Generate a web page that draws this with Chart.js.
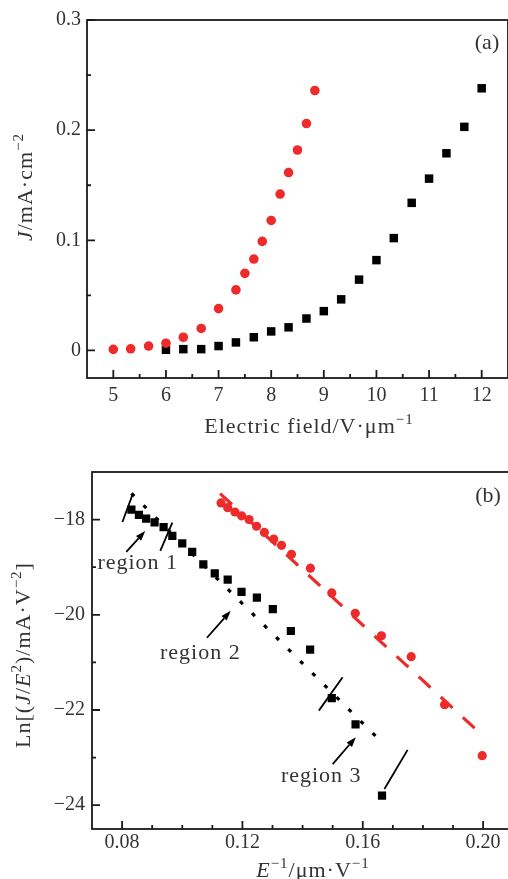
<!DOCTYPE html>
<html>
<head>
<meta charset="utf-8">
<script src="https://cdn.jsdelivr.net/npm/chart.js@4.4.1/dist/chart.umd.min.js"></script>
<style>
  html, body { margin: 0; padding: 0; background: #fff; overflow: hidden; }
  #wrap { position: relative; width: 508px; height: 879px; overflow: hidden; }
  canvas { position: absolute; left: 0; }
</style>
</head>
<body>
<div id="wrap">
  <canvas id="graficoJ" width="514" height="440" style="top:0"></canvas>
  <canvas id="graficoFN" width="519" height="439" style="top:440px"></canvas>
</div>
<script>
// (a) J - E
const redE = [5, 5.33, 5.67, 6, 6.33, 6.67, 7, 7.33, 7.5, 7.67, 7.83, 8, 8.17, 8.33, 8.5, 8.67, 8.83];
const redJ = [0.001, 0.0015, 0.004, 0.0066, 0.012, 0.020, 0.038, 0.055, 0.070, 0.083, 0.099, 0.118, 0.142, 0.1615, 0.182, 0.206, 0.236];
const blackE = [6, 6.33, 6.67, 7, 7.33, 7.67, 8, 8.33, 8.67, 9, 9.33, 9.67, 10, 10.33, 10.67, 11, 11.33, 11.67, 12];
const blackJ = [0.0006, 0.0012, 0.0012, 0.004, 0.0073, 0.012, 0.0173, 0.021, 0.029, 0.0357, 0.0464, 0.0643, 0.082, 0.102, 0.134, 0.156, 0.179, 0.203, 0.238];

// (b) F-N plot
const redInvE = [0.1129, 0.1151, 0.1175, 0.1197, 0.1222, 0.1247, 0.1273, 0.1304, 0.1330, 0.1363, 0.1426, 0.1497, 0.1575, 0.1662, 0.1761, 0.1872, 0.1997];
const redLn = [-17.65, -17.75, -17.84, -17.92, -18.0, -18.14, -18.27, -18.41, -18.54, -18.73, -19.02, -19.54, -19.97, -20.44, -20.88, -21.89, -22.96];
const blackInvE = [0.0831, 0.0856, 0.0880, 0.0908, 0.0938, 0.0967, 0.1000, 0.1033, 0.1070, 0.1108, 0.1151, 0.1197, 0.1248, 0.1301, 0.1361, 0.1425, 0.1497, 0.1576, 0.1664];
const blackLn = [-17.79, -17.90, -17.98, -18.06, -18.16, -18.34, -18.50, -18.68, -18.94, -19.13, -19.26, -19.52, -19.64, -19.88, -20.34, -20.73, -21.75, -22.30, -23.80];

// fit lines
const fitBlackX = [0.0831, 0.1645];
const fitBlackY = [-17.45, -22.56];
const fitRedX = [0.1126, 0.1992];
const fitRedY = [-17.455, -22.50];

// short marks separating the regions
const sepX = [[0.0801, 0.0836], [0.0927, 0.0967], [0.1454, 0.1533], [0.1672, 0.1749]];
const sepY = [[-18.05, -17.455], [-18.658, -18.063], [-22.013, -21.312], [-23.66, -22.837]];

// arrows + region labels
const arrowX = [[0.0814, 0.0877], [0.1082, 0.1161], [0.1500, 0.1577]];
const arrowY = [[-18.679, -18.239], [-20.482, -19.916], [-23.136, -22.57]];
const regionText = ['region 1', 'region 2', 'region 3'];
const regionX = [0.0852, 0.1060, 0.1462];
const regionY = [-19.03, -20.935, -23.52];

// ticks
const xTicksA = [5, 5.5, 6, 6.5, 7, 7.5, 8, 8.5, 9, 9.5, 10, 10.5, 11, 11.5, 12];
const xLabelsA = [5, 6, 7, 8, 9, 10, 11, 12];
const yTicksA = [0, 0.05, 0.1, 0.15, 0.2, 0.25, 0.3];
const yLabelsA = [0, 0.1, 0.2, 0.3];
const xTicksB = [0.08, 0.09, 0.10, 0.11, 0.12, 0.13, 0.14, 0.15, 0.16, 0.17, 0.18, 0.19, 0.20];
const xLabelsB = [0.08, 0.12, 0.16, 0.20];
const yTicksB = [-24, -23, -22, -21, -20, -19, -18];
const yLabelsB = [-24, -22, -20, -18];

const vermelho = '#ee2b2b';
const fonte = '"Liberation Serif", "DejaVu Serif", serif';
const corTexto = '#333';

function temLabel(lista, v) {
    return lista.some(l => Math.abs(l - v) < 1e-9);
}

function pontos(xs, ys) {
    return xs.map((x, i) => ({ x: x, y: ys[i] }));
}

function escreveRico(ctx, partes, cx, cy, size, vertical) {
    ctx.save();
    ctx.translate(cx, cy);
    if (vertical) ctx.rotate(-Math.PI / 2);
    ctx.letterSpacing = '1px';
    const f = p => (p.i ? 'italic ' : '') + (p.s ? Math.round(size * 0.7) : size) + 'px ' + fonte;
    let w = 0;
    partes.forEach(p => { ctx.font = f(p); w += ctx.measureText(p.t).width; });
    let x = -w / 2;
    ctx.fillStyle = corTexto;
    ctx.textBaseline = 'alphabetic';
    partes.forEach(p => {
        ctx.font = f(p);
        ctx.fillText(p.t, x, p.s ? -size * 0.42 : 0);
        x += ctx.measureText(p.t).width;
    });
    ctx.restore();
}

// moldura + ticks para dentro
const moldura = {
    id: 'moldura',
    afterDraw(chart, args, opts) {
        const { ctx, chartArea: a } = chart;
        const sx = chart.scales.x, sy = chart.scales.y;
        ctx.save();
        ctx.strokeStyle = '#1a1a1a';
        ctx.lineWidth = 1.8;
        ctx.beginPath();
        sx.ticks.forEach(t => {
            const px = sx.getPixelForValue(t.value);
            const len = t.label ? 8 : 4;
            ctx.moveTo(px, a.bottom);
            ctx.lineTo(px, a.bottom - len);
        });
        sy.ticks.forEach(t => {
            const py = sy.getPixelForValue(t.value);
            const len = t.label ? 8 : 4;
            ctx.moveTo(a.left, py);
            ctx.lineTo(a.left + len, py);
        });
        ctx.stroke();
        ctx.strokeRect(a.left, a.top, a.right - a.left, a.bottom - a.top);
        ctx.restore();

        opts.titulos.forEach(t => escreveRico(ctx, t.partes, t.x, t.y, t.size, t.vertical));
        ctx.save();
        ctx.font = '22px ' + fonte;
        ctx.fillStyle = corTexto;
        ctx.textAlign = 'center';
        ctx.fillText(opts.painel.t, opts.painel.x, opts.painel.y);
        ctx.restore();
    }
};

// setas e textos das regioes
const anotacoes = {
    id: 'anotacoes',
    afterDatasetsDraw(chart, args, opts) {
        if (!opts.ativo) return;
        const { ctx } = chart;
        const sx = chart.scales.x, sy = chart.scales.y;
        ctx.save();
        ctx.strokeStyle = '#000';
        ctx.fillStyle = '#000';
        ctx.lineWidth = 1.8;
        arrowX.forEach((ax, i) => {
            const x1 = sx.getPixelForValue(ax[0]), y1 = sy.getPixelForValue(arrowY[i][0]);
            const x2 = sx.getPixelForValue(ax[1]), y2 = sy.getPixelForValue(arrowY[i][1]);
            const ang = Math.atan2(y2 - y1, x2 - x1);
            const L = 10, W = 3.5;
            const bx = x2 - L * Math.cos(ang), by = y2 - L * Math.sin(ang);
            ctx.beginPath();
            ctx.moveTo(x1, y1);
            ctx.lineTo(bx, by);
            ctx.stroke();
            ctx.beginPath();
            ctx.moveTo(x2, y2);
            ctx.lineTo(bx + W * Math.sin(ang), by - W * Math.cos(ang));
            ctx.lineTo(bx - W * Math.sin(ang), by + W * Math.cos(ang));
            ctx.closePath();
            ctx.fill();
        });
        ctx.font = '22px ' + fonte;
        ctx.letterSpacing = '1px';
        ctx.fillStyle = corTexto;
        ctx.textAlign = 'center';
        regionText.forEach((t, i) => {
            ctx.fillText(t, sx.getPixelForValue(regionX[i]), sy.getPixelForValue(regionY[i]));
        });
        ctx.restore();
    }
};

function eixo(min, max, ticks, labels, fmt, fit, pad) {
    return {
        type: 'linear',
        min: min,
        max: max,
        grid: { display: false, drawTicks: false },
        border: { display: false },
        afterBuildTicks: s => { s.ticks = ticks.map(v => ({ value: v })); },
        afterFit: fit,
        ticks: {
            autoSkip: false,
            maxRotation: 0,
            padding: pad,
            color: corTexto,
            font: { family: fonte, size: 20 },
            callback: v => temLabel(labels, v) ? fmt(v) : ''
        }
    };
}

// GRAFICO (a)
const graficoJ = new Chart(document.getElementById('graficoJ'), {
    type: 'scatter',
    data: {
        datasets: [
            {
                label: 'vermelho',
                data: pontos(redE, redJ),
                pointStyle: 'circle',
                pointRadius: 4.8,
                backgroundColor: vermelho,
                borderWidth: 0
            },
            {
                label: 'preto',
                data: pontos(blackE, blackJ),
                pointStyle: 'rect',
                pointRadius: 6,
                backgroundColor: '#000',
                borderWidth: 0
            }
        ]
    },
    options: {
        responsive: false,
        animation: false,
        devicePixelRatio: 1,
        layout: { padding: { top: 20, left: 0, right: 0, bottom: 0 } },
        plugins: {
            legend: { display: false },
            tooltip: { enabled: false },
            anotacoes: { ativo: false },
            moldura: {
                titulos: [
                    { partes: [{ t: 'Electric field/V·μm' }, { t: '−1', s: true }], x: 309, y: 433, size: 22 },
                    { partes: [{ t: 'J', i: true }, { t: '/mA·cm' }, { t: '−2', s: true }], x: 32, y: 187, size: 22, vertical: true }
                ],
                painel: { t: '(a)', x: 487, y: 49 }
            }
        },
        scales: {
            x: eixo(4.5, 12.5, xTicksA, xLabelsA, v => String(v), s => { s.height = 62; }, 6),
            y: eixo(-0.025, 0.3, yTicksA, yLabelsA, v => String(+v.toFixed(2)), s => { s.width = 87; }, 6)
        }
    },
    plugins: [moldura, anotacoes]
});

// GRAFICO (b)
const graficoFN = new Chart(document.getElementById('graficoFN'), {
    type: 'scatter',
    data: {
        datasets: [
            {
                label: 'ajuste vermelho',
                data: pontos(fitRedX, fitRedY),
                showLine: true,
                borderColor: vermelho,
                borderWidth: 3.2,
                borderDash: [16, 14],
                pointRadius: 0
            },
            {
                label: 'ajuste preto',
                data: pontos(fitBlackX, fitBlackY),
                showLine: true,
                borderColor: '#000',
                borderWidth: 3.2,
                borderDash: [4, 13],
                pointRadius: 0
            },
            ...sepX.map((sx, i) => ({
                label: 'separador ' + (i + 1),
                data: pontos(sx, sepY[i]),
                showLine: true,
                borderColor: '#000',
                borderWidth: 1.8,
                pointRadius: 0
            })),
            {
                label: 'vermelho',
                data: pontos(redInvE, redLn),
                pointStyle: 'circle',
                pointRadius: 4.6,
                backgroundColor: vermelho,
                borderWidth: 0
            },
            {
                label: 'preto',
                data: pontos(blackInvE, blackLn),
                pointStyle: 'rect',
                pointRadius: 5.8,
                backgroundColor: '#000',
                borderWidth: 0
            }
        ]
    },
    options: {
        responsive: false,
        animation: false,
        devicePixelRatio: 1,
        layout: { padding: { top: 32, left: 0, right: 0, bottom: 0 } },
        plugins: {
            legend: { display: false },
            tooltip: { enabled: false },
            anotacoes: { ativo: true },
            moldura: {
                titulos: [
                    { partes: [{ t: 'E', i: true }, { t: '−1', s: true }, { t: '/μm·V' }, { t: '−1', s: true }], x: 313, y: 437, size: 22 },
                    { partes: [{ t: 'Ln[(' }, { t: 'J', i: true }, { t: '/' }, { t: 'E', i: true }, { t: '2', s: true }, { t: ')/mA·V' }, { t: '−2', s: true }, { t: ']' }], x: 30, y: 215, size: 22, vertical: true }
                ],
                painel: { t: '(b)', x: 488, y: 62 }
            }
        },
        scales: {
            x: eixo(0.07, 0.21, xTicksB, xLabelsB, v => v.toFixed(2), s => { s.height = 50; }, 2),
            y: eixo(-24.5, -17, yTicksB, yLabelsB, v => '\u2212' + Math.abs(v), s => { s.width = 92; }, 7)
        }
    },
    plugins: [moldura, anotacoes]
});
</script>
</body>
</html>
